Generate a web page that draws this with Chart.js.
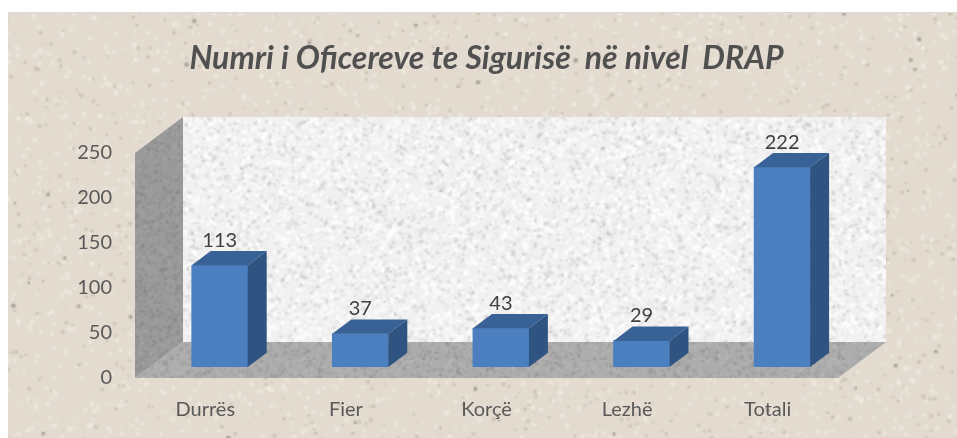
<!DOCTYPE html>
<html>
<head>
<meta charset="utf-8">
<title>Numri i Oficereve te Sigurisë në nivel DRAP</title>
<script src="https://cdn.jsdelivr.net/npm/chart.js@4/dist/chart.umd.min.js"></script>
<style>
  html, body { margin: 0; padding: 0; background: #fff; }
  canvas { display: block; }
</style>
</head>
<body>
<canvas id="chart" width="957" height="438"></canvas>
<script>
const chartTitle = "Numri i Oficereve te Sigurisë  në nivel  DRAP";
const categories = ["Durrës", "Fier", "Korçë", "Lezhë", "Totali"];
const officers = [113, 37, 43, 29, 222];

const fontFamily = "Lato, 'Open Sans', sans-serif";
const wallDepth = { x: 48, y: 36 };
const barOffset = { x: 14.4, y: -11 };
const barDepth = { x: 19, y: -14.3 };

// speckled paper/stone fills, only decoration so a small fixed generator is enough.
// drawn at half size and scaled back up, that gives the soft look without a blur filter
function texture(w, h, base, specks, seed) {
    const small = document.createElement("canvas");
    small.width = Math.ceil(w / 2);
    small.height = Math.ceil(h / 2);
    const g = small.getContext("2d");
    g.fillStyle = base;
    g.fillRect(0, 0, small.width, small.height);
    let s = seed;
    const next = () => {
        s = (s * 1664525 + 1013904223) % 4294967296;
        return s / 4294967296;
    };
    specks.forEach(([color, count, size]) => {
        g.fillStyle = color;
        for (let i = 0; i < count; i++) {
            const r = size * (0.5 + next()) / 2;
            g.fillRect(next() * small.width, next() * small.height, r, r);
        }
    });
    const c = document.createElement("canvas");
    c.width = w;
    c.height = h;
    const big = c.getContext("2d");
    big.imageSmoothingEnabled = true;
    big.imageSmoothingQuality = "high";
    big.drawImage(small, 0, 0, w, h);
    return c;
}

const paper = texture(957, 438, "#e3dbcf", [
    ["rgba(150,140,125,0.35)", 1300, 2.2],
    ["rgba(245,240,232,0.55)", 2600, 3],
    ["rgba(90,85,75,0.5)", 90, 2.5],
], 11);
const stone = texture(720, 240, "#f1f1f1", [
    ["rgba(150,150,150,0.35)", 5200, 2],
    ["rgba(255,255,255,0.8)", 5200, 3],
], 23);
const sideWall = texture(60, 280, "#9b9b9b", [
    ["rgba(120,120,120,0.5)", 1200, 1.6],
    ["rgba(175,175,175,0.4)", 1000, 1.6],
], 37);
const floor = texture(760, 40, "#adadad", [
    ["rgba(135,135,135,0.5)", 1800, 1.8],
    ["rgba(195,195,195,0.45)", 1500, 1.8],
], 41);

function poly(ctx, pts, fill) {
    ctx.beginPath();
    pts.forEach(([x, y], i) => i ? ctx.lineTo(x, y) : ctx.moveTo(x, y));
    ctx.closePath();
    ctx.fillStyle = fill;
    ctx.fill();
}

const scene3d = {
    id: "scene3d",
    beforeDraw(chart) {
        const { ctx, chartArea: a } = chart;
        ctx.save();
        ctx.fillStyle = "#fff";
        ctx.fillRect(0, 0, chart.width, chart.height);
        ctx.drawImage(paper, 8, 12, 949, 426, 8, 12, 949, 426);
        ctx.fillStyle = "#d9d9d5";
        ctx.fillRect(8, 12, 949, 1);

        const bx = a.left + wallDepth.x, by = a.top - wallDepth.y;
        const rx = a.right + wallDepth.x, fy = a.bottom - wallDepth.y;
        ctx.drawImage(stone, bx, by, rx - bx, fy - by);
        poly(ctx, [[a.left, a.top], [bx, by], [bx, fy], [a.left, a.bottom]],
            ctx.createPattern(sideWall, "repeat"));
        poly(ctx, [[a.left, a.bottom], [bx, fy], [rx, fy], [a.right, a.bottom]],
            ctx.createPattern(floor, "repeat"));
        ctx.restore();
    },
    beforeDatasetsDraw(chart) {
        chart.ctx.save();
        chart.ctx.translate(barOffset.x, barOffset.y);
    },
    afterDatasetsDraw(chart) {
        const ctx = chart.ctx;
        const d = barDepth;
        chart.getDatasetMeta(0).data.forEach((bar, i) => {
            const l = bar.x - bar.width / 2, r = bar.x + bar.width / 2;
            poly(ctx, [[l, bar.y], [l + d.x, bar.y + d.y], [r + d.x, bar.y + d.y], [r, bar.y]], "#386296");
            poly(ctx, [[r, bar.y], [r + d.x, bar.y + d.y], [r + d.x, bar.base + d.y], [r, bar.base]], "#2f5482");
            ctx.font = "20px " + fontFamily;
            ctx.fillStyle = "#404040";
            ctx.textAlign = "center";
            ctx.textBaseline = "middle";
            ctx.fillText(String(officers[i]), bar.x, bar.y - 25);
        });
        ctx.restore();
    },
};

new Chart(document.getElementById("chart"), {
    type: "bar",
    data: {
        labels: categories,
        datasets: [{
            data: officers,
            backgroundColor: "#4b7fbf",
            barThickness: 56,
        }],
    },
    plugins: [scene3d],
    options: {
        responsive: false,
        animation: false,
        layout: { padding: { left: 75, right: 119, top: 0, bottom: 0 } },
        plugins: {
            legend: { display: false },
            tooltip: { enabled: false },
            title: {
                display: true,
                text: chartTitle,
                fullSize: false,
                color: "#505050",
                font: { family: fontFamily, size: 32, weight: "bold", style: "italic", lineHeight: 1.2 },
                padding: { top: 39, bottom: 75.6 },
            },
        },
        scales: {
            x: {
                grid: { display: false, drawTicks: false },
                border: { display: false },
                ticks: { color: "#595959", font: { family: fontFamily, size: 20 }, padding: 20, maxRotation: 0 },
                afterFit: (s) => { s.height = 60; },
            },
            y: {
                min: 0,
                max: 250,
                grid: { display: false, drawTicks: false },
                border: { display: false },
                ticks: { stepSize: 50, color: "#595959", font: { family: fontFamily, size: 20 }, padding: 23 },
                afterFit: (s) => { s.width = 60; },
            },
        },
    },
});
</script>
</body>
</html>
